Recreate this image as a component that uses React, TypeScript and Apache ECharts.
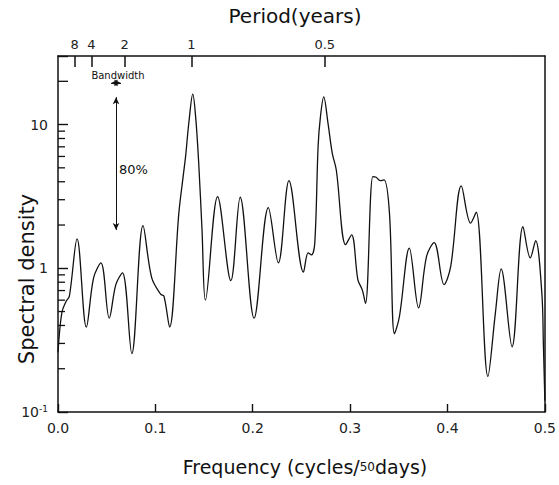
import React, { useEffect, useRef } from 'react';
import * as echarts from 'echarts';

// Frequency (cycles / 50 days)
const frequency = [
  0, 0.0039, 0.0084, 0.0117, 0.0196, 0.0291, 0.0366, 0.0441, 0.0526, 0.0594,
  0.0662, 0.0758, 0.0873, 0.0962, 0.1054, 0.1088, 0.1146, 0.1241, 0.1285, 0.131,
  0.1345, 0.1384, 0.1415, 0.1445, 0.1479, 0.1514, 0.1639, 0.1775, 0.1871, 0.2014,
  0.216, 0.2263, 0.2372, 0.2521, 0.2569, 0.2603, 0.2637, 0.2671, 0.2695, 0.2729,
  0.2773, 0.2817, 0.2858, 0.2954, 0.3015, 0.308, 0.3124, 0.3158, 0.3233, 0.3267,
  0.3308, 0.3348, 0.3404, 0.3455, 0.3506, 0.3608, 0.3703, 0.3785, 0.3863, 0.3965,
  0.4033, 0.4142, 0.4237, 0.4295, 0.4415, 0.4492, 0.4551, 0.4663, 0.4775, 0.485,
  0.4905, 0.4969, 0.4985, 0.5,
];
// Spectral density
const density = [
  0.26, 0.49, 0.59, 0.64, 1.6, 0.39, 0.86, 1.09, 0.45, 0.77,
  0.93, 0.255, 1.98, 0.86, 0.66, 0.64, 0.39, 2.42, 4.34, 5.98,
  10.5, 16.3, 11, 5.4, 1.85, 0.6, 3.15, 0.82, 3.12, 0.45,
  2.64, 1.09, 4.07, 0.94, 1.28, 1.24, 1.5, 7.0, 11.3, 15.6,
  10.2, 6.3, 4.83, 1.46, 1.71, 0.83, 0.71, 0.57, 4.34, 4.3,
  4.07, 4.12, 2.42, 0.35, 0.46, 1.38, 0.53, 1.21, 1.51, 0.77,
  1.03, 3.74, 2.06, 2.46, 0.177, 0.49, 0.99, 0.284, 1.95, 1.18,
  1.56, 0.67, 0.29, 0.12,
];

const periodYears = [8, 4, 2, 1, 0.5];
const minorDensityTicks = [0.2, 0.3, 0.4, 0.5, 0.6, 0.7, 0.8, 0.9, 2, 3, 4, 5, 6, 7, 8, 9, 20];
const bandwidthRange = [0.0545, 0.0647];
const bandwidthLevel = 19.5;
const confFreq = 0.0596;
const confRange = [1.85, 15.5];

const FONT = '"DejaVu Sans", sans-serif';
const INK = '#111';

const periodToFreq = (p: number) => 50 / (365 * p);

export default function App() {
  const ref = useRef<HTMLDivElement>(null);
  useEffect(() => {
    if (!ref.current) return;
    const chart = echarts.init(ref.current, undefined, { renderer: 'svg' });
    const periodFreqs = periodYears.map(periodToFreq);
    const axisLine = { show: true, onZero: false, lineStyle: { color: INK, width: 1.5 } };
    const option: any = {
      animation: false,
      grid: { left: 58, right: 11, top: 56, bottom: 73, show: false },
      xAxis: [
        {
          type: 'value', min: 0, max: 0.5, interval: 0.1, position: 'bottom',
          axisLine,
          axisTick: { show: true, inside: true, length: 8, lineStyle: { color: INK, width: 1.4 } },
          axisLabel: {
            formatter: (v: number) => v.toFixed(1), margin: 9,
            color: '#222', fontSize: 14, fontFamily: FONT,
            showMinLabel: true, showMaxLabel: true,
          },
          splitLine: { show: false },
        },
        {
          type: 'value', min: 0, max: 0.5, position: 'top',
          axisLine,
          axisTick: {
            show: true, inside: true, length: 11, customValues: periodFreqs,
            lineStyle: { color: INK, width: 1.5 },
          },
          axisLabel: {
            customValues: periodFreqs,
            formatter: (v: number) => String(Math.round((50 / (365 * v)) * 10) / 10),
            margin: 5, color: '#222', fontSize: 13, fontFamily: FONT,
          },
          splitLine: { show: false },
        },
      ],
      yAxis: [
        {
          type: 'log', logBase: 10, min: 0.1, max: 30, position: 'left',
          axisLine,
          axisTick: { show: true, inside: true, length: 10, lineStyle: { color: INK, width: 1.4 } },
          axisLabel: {
            margin: 10, color: '#222', fontSize: 14, fontFamily: FONT,
            formatter: (v: number) => {
              const e = Math.log10(v);
              const r = Math.round(e);
              if (Math.abs(e - r) > 1e-6) return '';
              if (r === -1) return '{b|10}{s|-1}';
              return String(Math.round(v));
            },
            rich: {
              b: { fontSize: 14, fontFamily: FONT, color: '#222' },
              s: { fontSize: 9, fontFamily: FONT, color: '#222', padding: [0, 0, 7, 0] },
            },
          },
          splitLine: { show: false },
        },
        {
          type: 'log', logBase: 10, min: 0.1, max: 30, position: 'right',
          axisLine,
          axisTick: { show: false },
          axisLabel: { show: false },
          splitLine: { show: false },
        },
      ],
      series: [
        {
          type: 'line',
          xAxisIndex: 0,
          yAxisIndex: 0,
          data: frequency.map((f, i) => [f, density[i]]),
          showSymbol: false,
          symbol: 'none',
          smooth: 0.35,
          lineStyle: { color: INK, width: 1.3 },
          silent: true,
          markLine: {
            silent: true,
            symbol: ['arrow', 'arrow'],
            symbolSize: [5, 7],
            label: { show: false },
            lineStyle: { color: INK, width: 1, type: 'solid' },
            data: [
              [{ coord: [bandwidthRange[0], bandwidthLevel] }, { coord: [bandwidthRange[1], bandwidthLevel] }],
              [{ coord: [confFreq, confRange[1]] }, { coord: [confFreq, confRange[0]] }],
            ],
          },
        },
        {
          type: 'custom',
          xAxisIndex: 0,
          yAxisIndex: 0,
          silent: true,
          data: minorDensityTicks.map((v) => [0, v]),
          renderItem: (params: any, api: any) => {
            const v = api.value(1);
            const p = api.coord([api.value(0), v]);
            const len = v === 20 ? 10 : 7;
            return {
              type: 'rect',
              shape: { x: p[0], y: p[1] - 0.65, width: len, height: 1.3 },
              style: { fill: INK },
            };
          },
        },
      ],
      graphic: [
        {
          type: 'text', x: 295, y: 16,
          style: { text: 'Period(years)', fontSize: 20, fontFamily: FONT, fill: '#111', textAlign: 'center', textVerticalAlign: 'middle', verticalAlign: 'middle' },
        },
        {
          type: 'text', x: 305, y: 467,
          style: {
            text: 'Frequency (cycles/{s|50}days)', fontSize: 19, fontFamily: FONT, fill: '#111',
            textAlign: 'center', textVerticalAlign: 'middle', verticalAlign: 'middle',
            rich: { s: { fontSize: 12, fontFamily: FONT, fill: '#111' } },
          },
        },
        {
          type: 'text', x: 27, y: 279, rotation: Math.PI / 2,
          style: { text: 'Spectral density', fontSize: 21, fontFamily: FONT, fill: '#111', textAlign: 'center', textVerticalAlign: 'middle', verticalAlign: 'middle' },
        },
        {
          type: 'text', x: 118, y: 75,
          style: { text: 'Bandwidth', fontSize: 10, fontFamily: FONT, fill: '#111', textAlign: 'center', textVerticalAlign: 'middle', verticalAlign: 'middle' },
        },
        {
          type: 'text', x: 119, y: 169,
          style: { text: '80%', fontSize: 13, fontFamily: FONT, fill: '#111', textAlign: 'left', textVerticalAlign: 'middle', verticalAlign: 'middle' },
        },
      ],
    };
    chart.setOption(option);
    return () => chart.dispose();
  }, []);
  return <div ref={ref} style={{ position: 'fixed', left: 0, top: 0, width: 559, height: 485, background: '#fff' }} />;
}
